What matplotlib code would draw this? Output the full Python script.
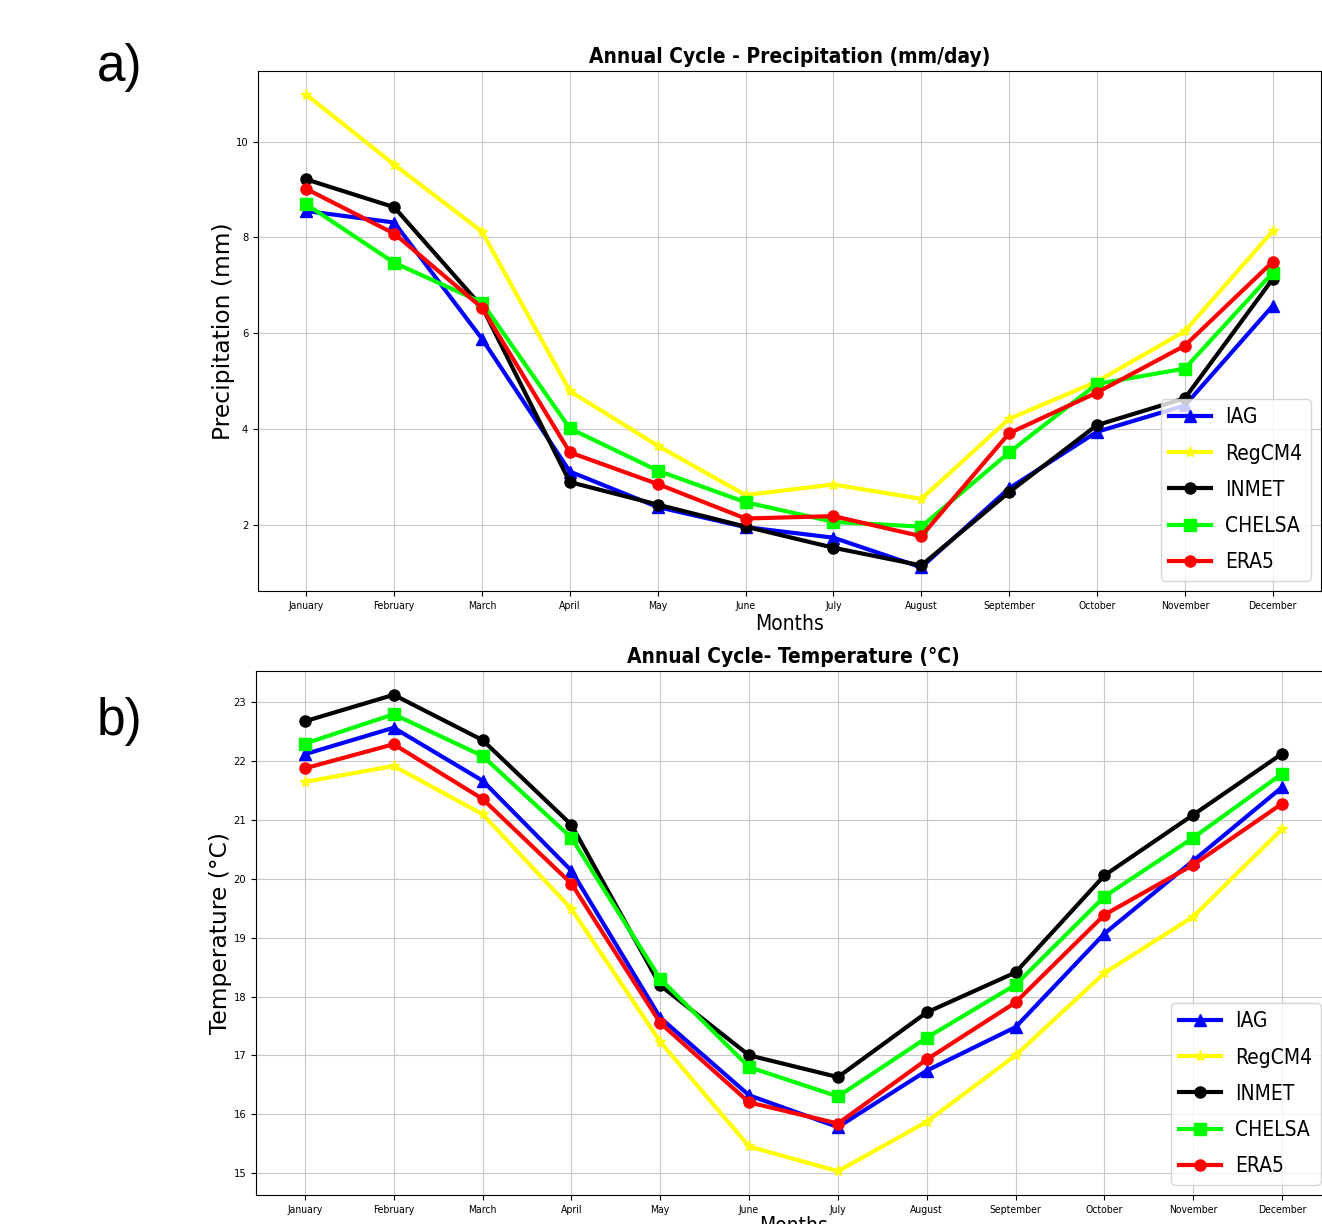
import matplotlib
matplotlib.use("Agg")
import matplotlib.pyplot as plt
from matplotlib import font_manager as fm

months = ["January", "February", "March", "April", "May", "June", "July",
          "August", "September", "October", "November", "December"]
names = ["IAG", "RegCM4", "INMET", "CHELSA", "ERA5"]
colors = ["#0000ff", "#ffff00", "#000000", "#00ff00", "#ff0000"]
markers = ["^", "*", "o", "s", "o"]

# precipitation (mm/day)
pr_iag = [8.55, 8.31, 5.88, 3.11, 2.37, 1.95, 1.73, 1.11, 2.76, 3.94, 4.49, 6.57]
pr_regcm = [10.98, 9.52, 8.12, 4.79, 3.65, 2.62, 2.84, 2.54, 4.21, 4.99, 6.04, 8.13]
pr_inmet = [9.21, 8.63, 6.55, 2.89, 2.42, 1.96, 1.52, 1.15, 2.68, 4.08, 4.64, 7.13]
pr_chelsa = [8.69, 7.47, 6.64, 4.01, 3.13, 2.47, 2.06, 1.96, 3.51, 4.94, 5.26, 7.26]
pr_era5 = [9.01, 8.08, 6.53, 3.51, 2.85, 2.13, 2.18, 1.76, 3.91, 4.76, 5.74, 7.49]

# temperature (C)
t_iag = [22.12, 22.57, 21.67, 20.14, 17.64, 16.32, 15.78, 16.74, 17.48, 19.07, 20.31, 21.56]
t_regcm = [21.65, 21.92, 21.10, 19.49, 17.23, 15.45, 15.03, 15.87, 17.00, 18.40, 19.36, 20.85]
t_inmet = [22.68, 23.13, 22.36, 20.92, 18.19, 17.00, 16.63, 17.73, 18.41, 20.06, 21.09, 22.13]
t_chelsa = [22.30, 22.80, 22.09, 20.70, 18.30, 16.80, 16.30, 17.30, 18.20, 19.70, 20.70, 21.79]
t_era5 = [21.88, 22.29, 21.36, 19.92, 17.55, 16.20, 15.84, 16.93, 17.90, 19.39, 20.24, 21.28]


def narrow_font(size, bold=False):
    """Condensed font if one is installed, else plain DejaVu Sans."""
    for key in ["dejavusanscondensed", "liberationsansnarrow"]:
        for f in fm.fontManager.ttflist:
            fn = f.fname.lower().replace("-", "")
            if key in fn and ("bold" in fn) == bold and "oblique" not in fn and "italic" not in fn:
                return fm.FontProperties(fname=f.fname, size=size)
    return fm.FontProperties(family="DejaVu Sans", size=size,
                             weight="bold" if bold else "normal")


def draw_panel(ax, series, title, ylabel, ylab_x, xlab_y):
    for vals, name, c, m in zip(series, names, colors, markers):
        ax.plot(months, vals, color=c, marker=m, lw=3, markersize=8, label=name)
    ax.grid(True, color="#c8c8c8")
    ax.set_title(title, fontproperties=narrow_font(15, bold=True), pad=6)
    ax.set_ylabel(ylabel, fontsize=16.8)
    ax.yaxis.set_label_coords(ylab_x, 0.5)
    ax.set_xlabel("Months", fontproperties=narrow_font(15), va="top")
    ax.xaxis.set_label_coords(0.5, xlab_y)
    for lbl in ax.get_xticklabels():
        lbl.set_fontproperties(narrow_font(7.5))
    for lbl in ax.get_yticklabels():
        lbl.set_fontproperties(narrow_font(8))
    ax.legend(loc="lower right", prop=narrow_font(15), labelspacing=0.78,
              handletextpad=0.7)


fig = plt.figure(figsize=(13.22, 12.24), dpi=100)
W, H = 1322.0, 1224.0

ax1 = fig.add_axes([258 / W, 1 - 591 / H, (1321 - 258) / W, (591 - 71) / H])
draw_panel(ax1, [pr_iag, pr_regcm, pr_inmet, pr_chelsa, pr_era5],
           "Annual Cycle - Precipitation (mm/day)", "Precipitation (mm)", -0.0216, -0.044)

ax2 = fig.add_axes([256 / W, 1 - 1195 / H, (1331 - 256) / W, (1195 - 671) / H])
draw_panel(ax2, [t_iag, t_regcm, t_inmet, t_chelsa, t_era5],
           "Annual Cycle- Temperature (°C)", "Temperature (°C)", -0.0223, -0.040)

fig.text(97 / W, 1 - 68 / H, "a)", fontsize=37, family="Liberation Sans", va="center", ha="left")
fig.text(97 / W, 1 - 722 / H, "b)", fontsize=37, family="Liberation Sans", va="center", ha="left")

fig.savefig("out.png", dpi=100)
plt.close(fig)
